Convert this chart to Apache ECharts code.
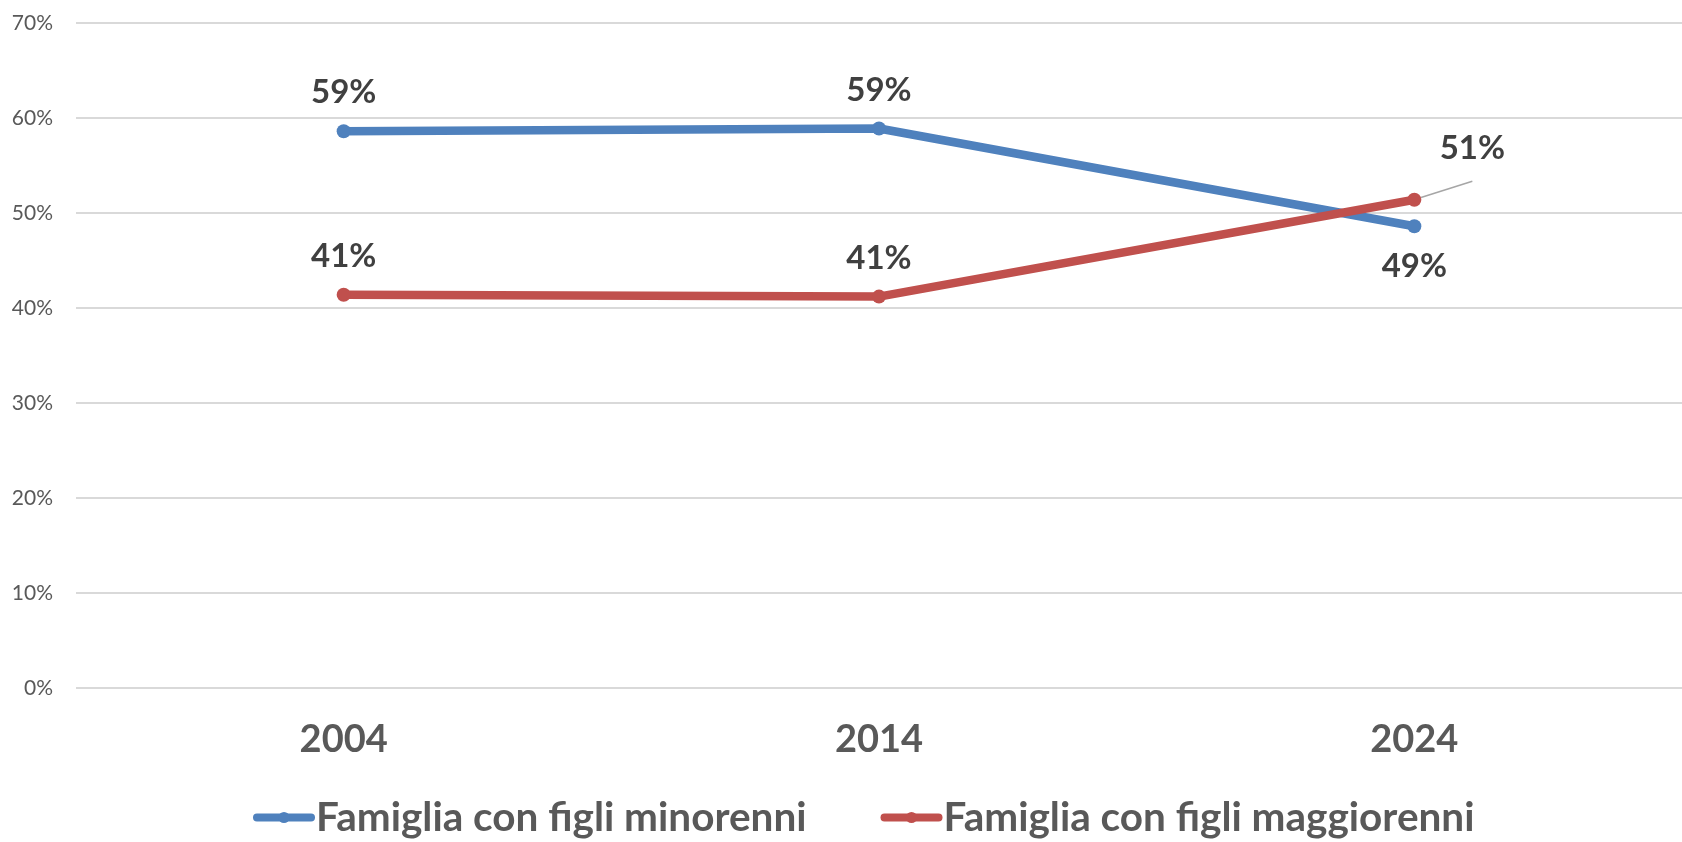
<!DOCTYPE html>
<html>
<head>
<meta charset="UTF-8">
<script src="https://cdn.jsdelivr.net/npm/echarts@6/dist/echarts.min.js"></script>
<style>
  html, body { margin: 0; padding: 0; width: 100%; height: 100%; background: #fff; }
  #main { width: 1682px; height: 842px; }
</style>
</head>
<body>
<div id="main"></div>
<script>
  const years = ['2004', '2014', '2024'];
  const minorenni = [58.6, 58.9, 48.6];
  const maggiorenni = [41.4, 41.2, 51.4];
  const yTicks = { min: 0, max: 70, step: 10 };

  const FONT = 'Lato';
  const blue = '#4F81BD';
  const red = '#C0504D';

  const chart = echarts.init(document.getElementById('main'));

  const labelBase = {
    show: true,
    fontFamily: FONT,
    fontWeight: 'bold',
    fontSize: 33,
    color: '#404040',
    formatter: p => Math.round(p.value) + '%'
  };

  const option = {
    animation: false,
    grid: { left: 76, top: 23, width: 1617, height: 665 },
    xAxis: {
      type: 'category',
      data: years,
      axisLine: { show: false },
      axisTick: { show: false },
      axisLabel: { fontFamily: FONT, fontWeight: 'bold', fontSize: 38, color: '#595959', margin: 33 }
    },
    yAxis: {
      type: 'value',
      min: yTicks.min,
      max: yTicks.max,
      interval: yTicks.step,
      axisLabel: { formatter: '{value}%', fontFamily: FONT, fontSize: 21, color: '#595959', margin: 23 },
      splitLine: { lineStyle: { color: '#D9D9D9', width: 2 } }
    },
    legend: {
      left: 248,
      top: 792,
      itemWidth: 54,
      itemHeight: 14,
      itemGap: 74,
      lineStyle: { width: 8, cap: 'round' },
      textStyle: { fontFamily: FONT, fontWeight: 'bold', fontSize: 40.5, color: '#595959' }
    },
    series: [
      {
        name: 'Famiglia con figli minorenni',
        type: 'line',
        data: minorenni.map((v, i) => i === 2
          ? { value: v, label: { position: 'bottom', distance: 17 } }
          : v),
        color: blue,
        symbol: 'circle',
        symbolSize: 14,
        lineStyle: { width: 8.5, color: blue },
        label: Object.assign({}, labelBase, { position: 'top', distance: 15 })
      },
      {
        name: 'Famiglia con figli maggiorenni',
        type: 'line',
        data: maggiorenni.map((v, i) => i === 2
          ? { value: v, label: { offset: [58, -13] }, labelLine: { show: true, lineStyle: { color: '#A6A6A6', width: 1.5 } } }
          : v),
        color: red,
        symbol: 'circle',
        symbolSize: 14,
        lineStyle: { width: 8.5, color: red },
        label: Object.assign({}, labelBase, { position: 'top', distance: 15 })
      }
    ]
  };

  chart.setOption(option);
</script>
</body>
</html>
